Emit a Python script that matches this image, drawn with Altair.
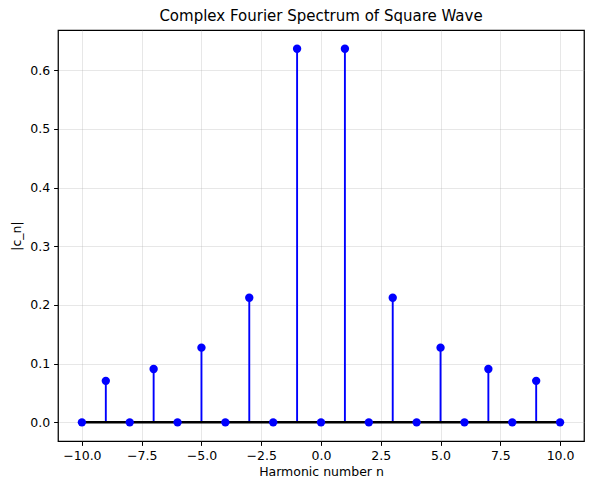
import altair as alt
import pandas as pd

n_values = [-10, -9, -8, -7, -6, -5, -4, -3, -2, -1, 0, 1, 2, 3, 4, 5, 6, 7, 8, 9, 10]
cn_abs = [0.0, 0.0707, 0.0, 0.0909, 0.0, 0.1273, 0.0, 0.2122, 0.0, 0.6366, 0.0,
          0.6366, 0.0, 0.2122, 0.0, 0.1273, 0.0, 0.0909, 0.0, 0.0707, 0.0]
x_ticks = [-10, -7.5, -5, -2.5, 0, 2.5, 5, 7.5, 10]
y_ticks = [0.0, 0.1, 0.2, 0.3, 0.4, 0.5, 0.6]

df = pd.DataFrame({"n": n_values, "c": cn_abs, "zero": [0.0] * len(n_values)})
base_df = pd.DataFrame({"x0": [min(n_values)], "x1": [max(n_values)], "y": [0.0]})

FONT = "DejaVu Sans"

xscale = alt.Scale(domain=[-11, 11], nice=False, zero=False)
yscale = alt.Scale(domain=[-0.0318, 0.6685], nice=False, zero=False)

common = dict(grid=True, gridColor="#b0b0b0", gridOpacity=0.3, gridWidth=1,
              domain=False, tickColor="black", tickSize=4.4, tickWidth=1,
              labelFont=FONT, labelFontSize=12.5, labelColor="black", labelPadding=4,
              titleFont=FONT, titleFontSize=12.5, titleFontWeight="normal",
              titleColor="black")

xaxis = alt.Axis(values=x_ticks, format=".1f", title="Harmonic number n",
                 titlePadding=4, **common)
yaxis = alt.Axis(values=y_ticks, format=".1f", title="|c_n|",
                 titlePadding=6, **common)

stems = alt.Chart(df).mark_rule(color="blue", strokeWidth=1.9).encode(
    x=alt.X("n:Q", scale=xscale, axis=xaxis),
    y=alt.Y("zero:Q", scale=yscale, axis=yaxis),
    y2="c:Q",
)

baseline = alt.Chart(base_df).mark_rule(color="black", strokeWidth=2.5).encode(
    x=alt.X("x0:Q", scale=xscale),
    x2="x1:Q",
    y=alt.Y("y:Q", scale=yscale),
)

markers = alt.Chart(df).mark_point(filled=True, color="blue", size=70, opacity=1, shape="circle").encode(
    x=alt.X("n:Q", scale=xscale),
    y=alt.Y("c:Q", scale=yscale),
)

chart = alt.layer(stems, baseline, markers).properties(
    width=526, height=411,
    title=alt.TitleParams("Complex Fourier Spectrum of Square Wave", font=FONT,
                          fontSize=15, fontWeight="normal", color="black",
                          anchor="middle", offset=6),
    autosize=alt.AutoSizeParams(type="none"),
    padding={"left": 50, "top": 22, "right": 1, "bottom": 52},
).configure_view(stroke="black", strokeWidth=1.25)

chart.save("out.html", embed_options={"renderer": "svg", "actions": False})
